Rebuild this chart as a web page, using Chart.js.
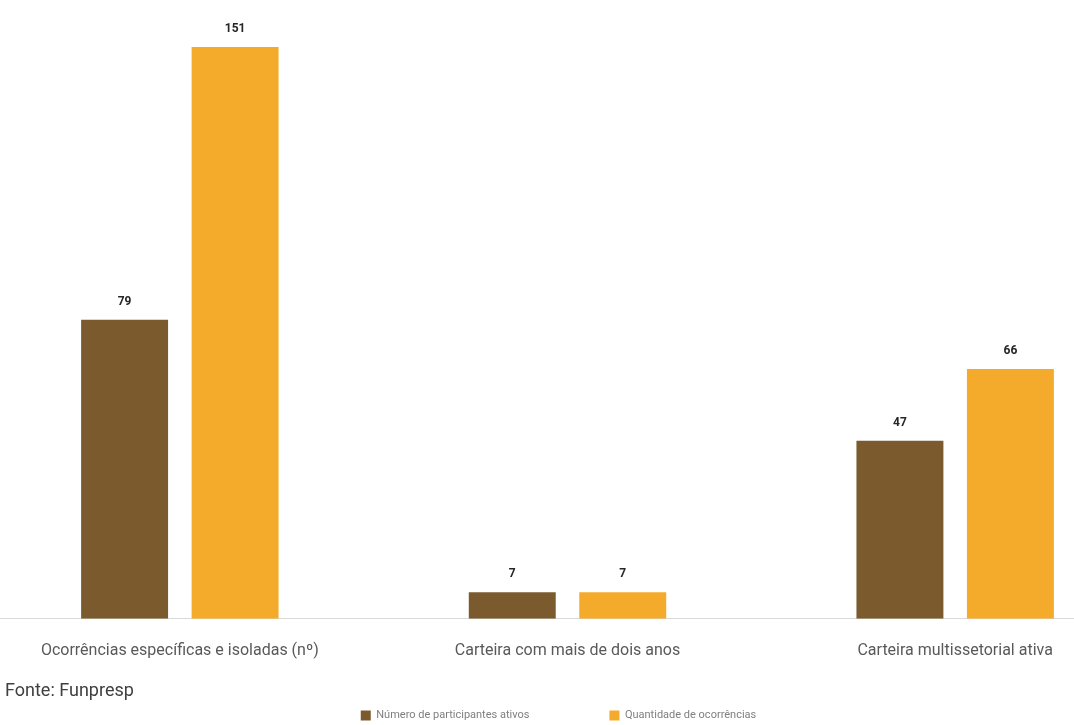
<!DOCTYPE html>
<html>
<head>
<meta charset="utf-8">
<script src="https://cdn.jsdelivr.net/npm/chart.js@4/dist/chart.umd.min.js"></script>
<style>
  html, body { margin: 0; padding: 0; background: #fff; overflow: hidden; width: 1074px; height: 725px; }
  #wrap { position: absolute; left: -20px; top: 0; width: 1180px; height: 731px; }
  #fonte { position: absolute; left: 5px; top: 679px; font-family: Roboto, sans-serif; font-size: 18px; color: #404040; }
</style>
</head>
<body>
<div id="wrap"><canvas id="c"></canvas></div>
<div id="fonte">Fonte: Funpresp</div>
<script>
const categories = ["Ocorrências específicas e isoladas (nº)", "Carteira com mais de dois anos", "Carteira multissetorial ativa"];
const seriesNames = ["Número de participantes ativos", "Quantidade de ocorrências"];
const seriesA = [79, 7, 47];
const seriesB = [151, 7, 66];

const valueLabels = {
  id: 'valueLabels',
  afterDatasetsDraw(chart) {
    const ctx = chart.ctx;
    ctx.save();
    ctx.font = 'bold 12px Roboto, Arial, sans-serif';
    ctx.fillStyle = '#262626';
    ctx.textAlign = 'center';
    ctx.textBaseline = 'bottom';
    chart.data.datasets.forEach((ds, i) => {
      chart.getDatasetMeta(i).data.forEach((el, j) => {
        ctx.fillText(String(ds.data[j]), el.x, el.y - 12);
      });
    });
    ctx.restore();
  }
};

// Legend keeps wide horizontal gaps but takes less vertical room
const legendCompact = {
  id: 'legendCompact',
  afterInit(chart) {
    const lg = chart.legend;
    if (!lg) return;
    const cut = 46, dx = -9;
    const fit0 = lg.fit, draw0 = lg.draw;
    lg.fit = function () { fit0.call(this); this.height -= cut; };
    lg.draw = function (area) {
      this.top -= cut; this.left += dx; this.right += dx;
      draw0.call(this, area);
      this.top += cut; this.left -= dx; this.right -= dx;
    };
  }
};

new Chart(document.getElementById('c'), {
  type: 'bar',
  data: {
    labels: categories,
    datasets: [
      { label: seriesNames[0], data: seriesA, backgroundColor: '#7B5B2E' },
      { label: seriesNames[1], data: seriesB, backgroundColor: '#F4AA2B' }
    ]
  },
  options: {
    responsive: true,
    maintainAspectRatio: false,
    animation: false,
    categoryPercentage: 0.57,
    barPercentage: 0.787,
    layout: { padding: { left: 6, right: 11, top: 13, bottom: 0 } },
    scales: {
      x: {
        grid: { display: false },
        border: { display: true, color: '#d9d9d9', width: 1 },
        ticks: { color: '#595959', font: { size: 16, family: 'Roboto, sans-serif' }, padding: 15 }
      },
      y: { display: false, min: 0, max: 160 }
    },
    plugins: {
      legend: {
        position: 'bottom',
        labels: { boxWidth: 10, boxHeight: 10, color: '#7f7f7f', padding: 80, font: { size: 11, family: 'Roboto, sans-serif' } }
      },
      tooltip: { enabled: false }
    }
  },
  plugins: [valueLabels, legendCompact]
});
</script>
</body>
</html>
